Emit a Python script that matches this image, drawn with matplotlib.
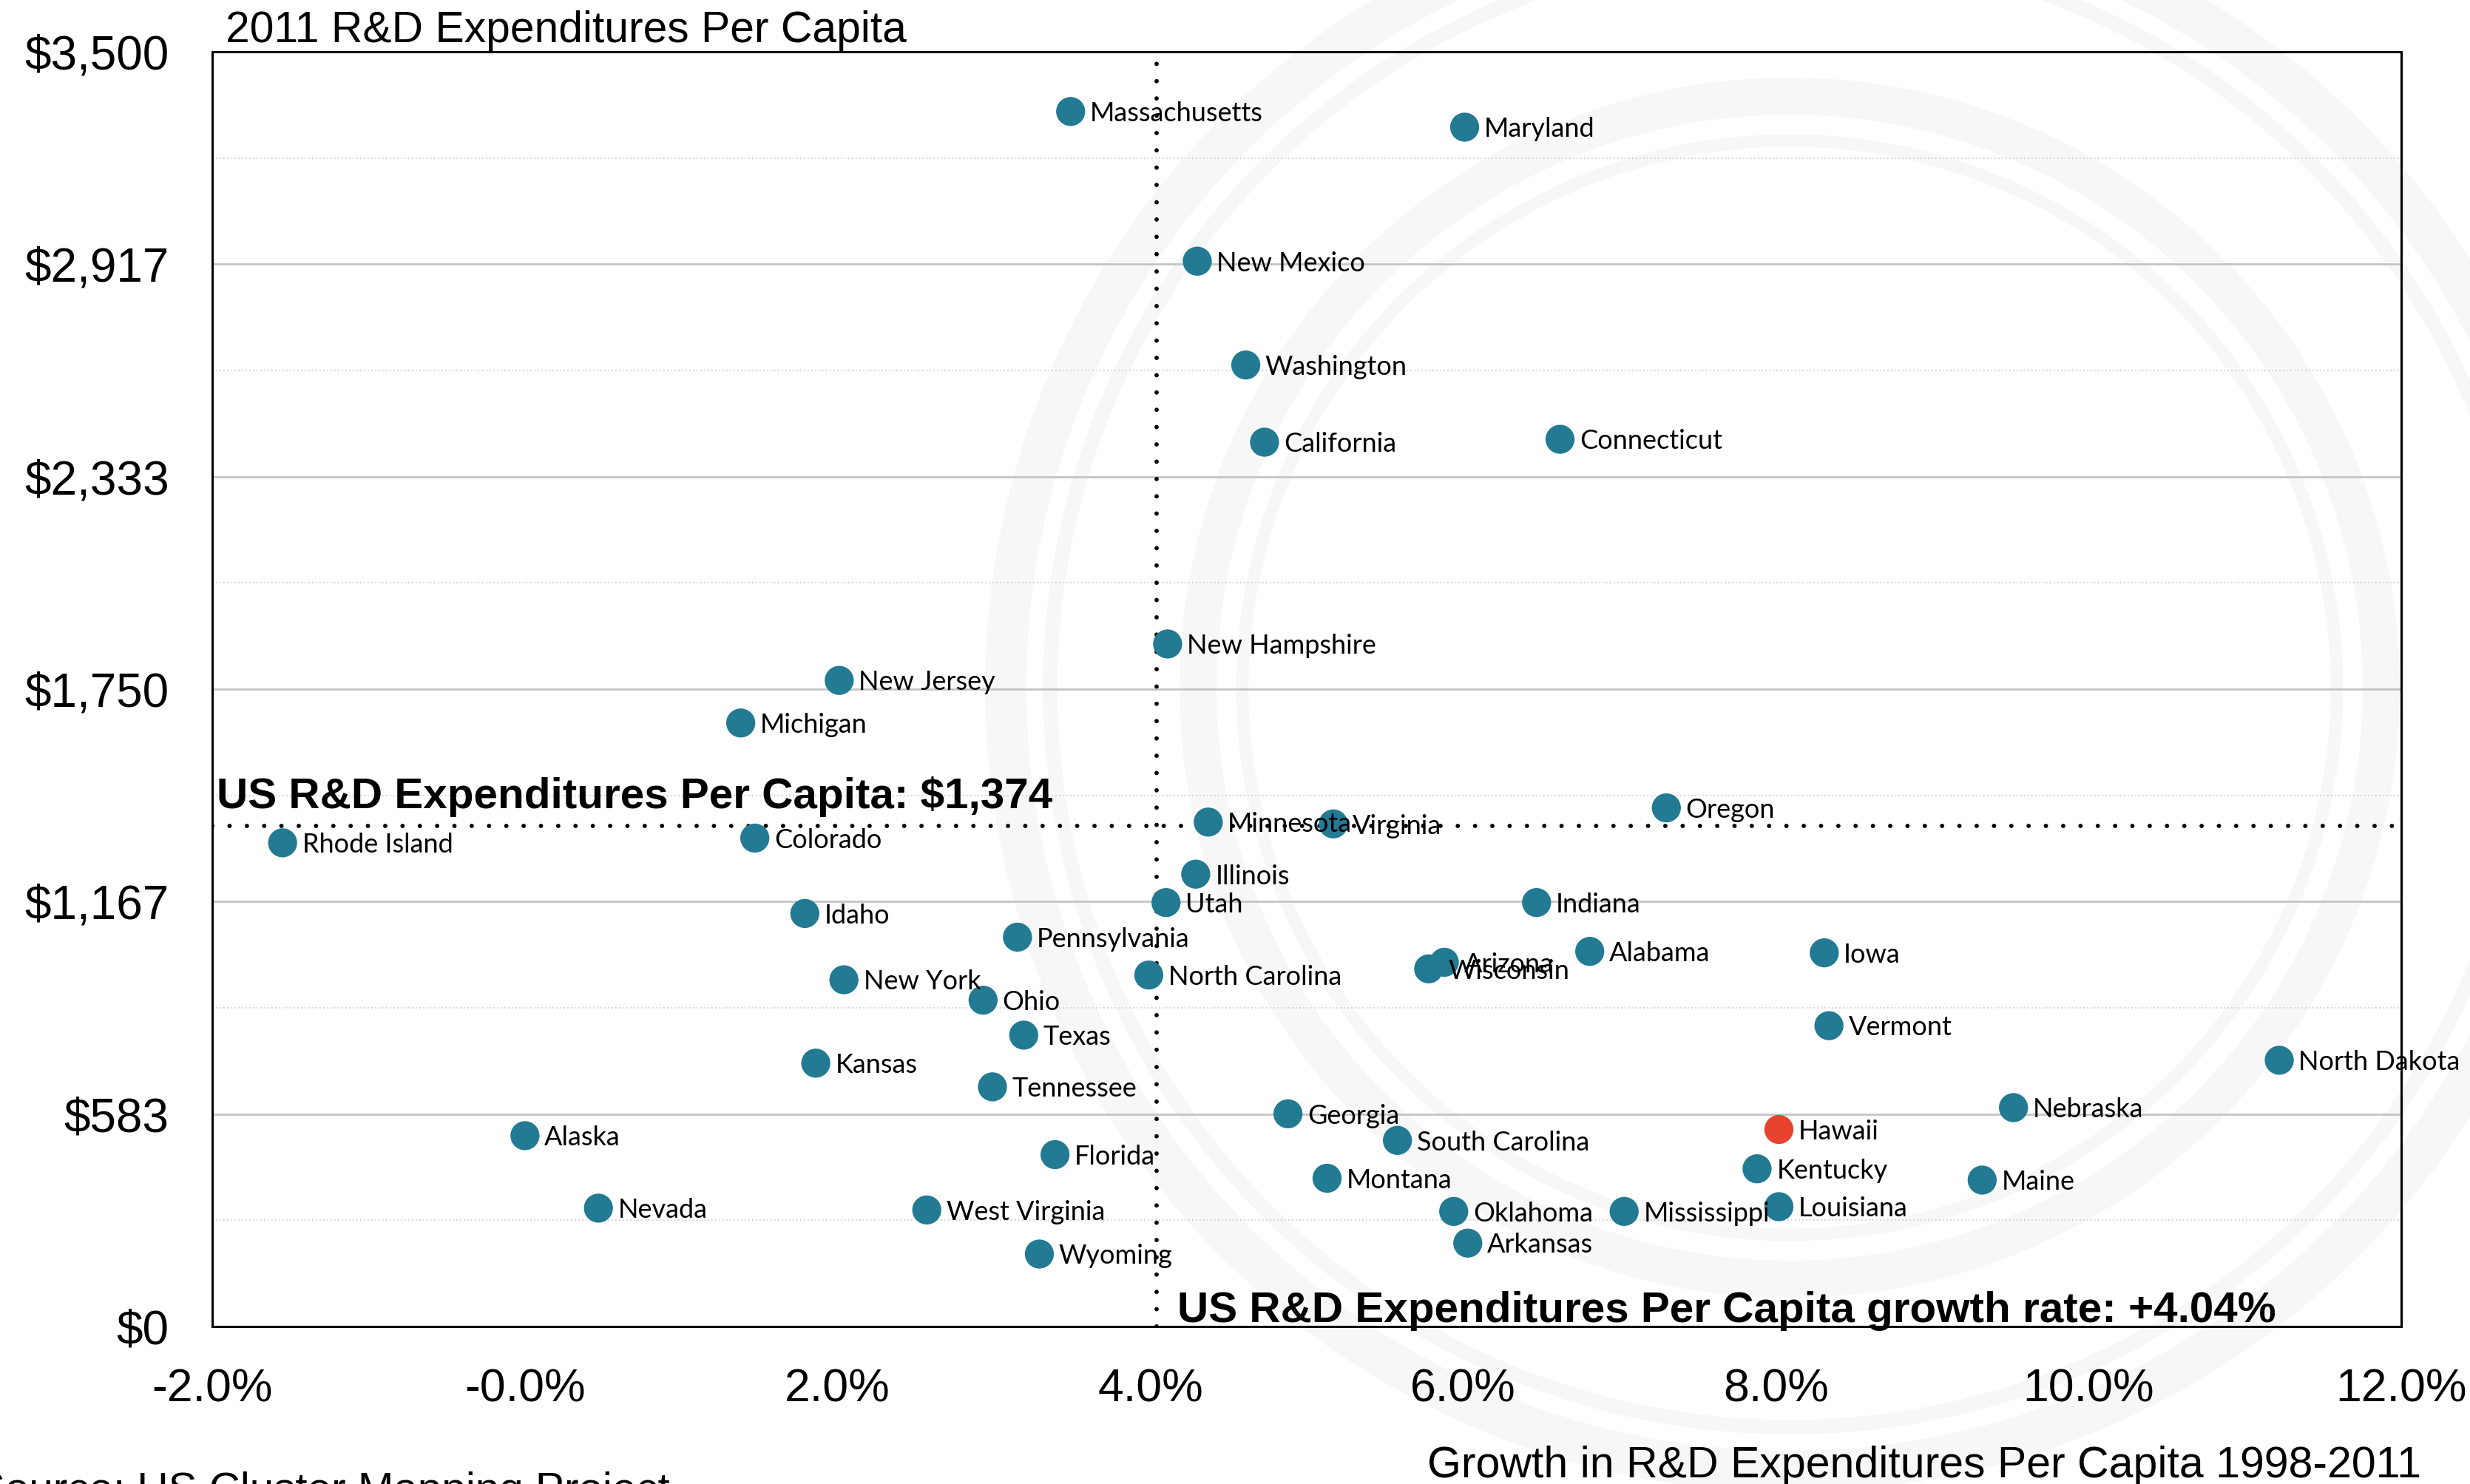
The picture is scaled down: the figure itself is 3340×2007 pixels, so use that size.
import matplotlib
matplotlib.use("Agg")
import matplotlib.pyplot as plt
from matplotlib.patches import Circle
import numpy as np

# ---------------- data ----------------
states = ["Massachusetts", "Maryland", "New Mexico", "Washington", "California",
          "Connecticut", "New Hampshire", "New Jersey", "Michigan", "Rhode Island",
          "Colorado", "Minnesota", "Virginia", "Oregon", "Illinois", "Utah",
          "Indiana", "Idaho", "Pennsylvania", "Alabama", "Iowa", "Arizona",
          "Wisconsin", "North Carolina", "New York", "Ohio", "Vermont", "Texas",
          "North Dakota", "Kansas", "Tennessee", "Nebraska", "Georgia", "Hawaii",
          "Alaska", "South Carolina", "Florida", "Kentucky", "Montana", "Maine",
          "Louisiana", "Nevada", "West Virginia", "Oklahoma", "Mississippi",
          "Arkansas", "Wyoming"]
growth = [3.49, 6.01, 4.30, 4.61, 4.73,
          6.62, 4.11, 2.01, 1.38, -1.55,
          1.47, 4.37, 5.17, 7.30, 4.29, 4.10,
          6.47, 1.79, 3.15, 6.81, 8.31, 5.88,
          5.78, 3.99, 2.04, 2.93, 8.34, 3.19,
          11.22, 1.86, 2.99, 9.52, 4.88, 8.02,
          0.00, 5.58, 3.39, 7.88, 5.13, 9.32,
          8.02, 0.47, 2.57, 5.94, 7.03,
          6.03, 3.29]
rd_per_capita = [3336, 3293, 2925, 2640, 2428,
                 2436, 1874, 1774, 1657, 1328,
                 1341, 1385, 1380, 1424, 1242, 1164,
                 1164, 1134, 1069, 1030, 1026, 1000,
                 982, 965, 952, 896, 826, 800,
                 731, 723, 658, 601, 584, 541,
                 524, 511, 472, 433, 407, 402,
                 329, 325, 320, 316, 316,
                 229, 199]
highlight = "Hawaii"
us_per_capita = 1374
us_growth = 4.04
y_ticks = [0, 583.33, 1166.67, 1750, 2333.33, 2916.67, 3500]
y_tick_labels = ["$0", "$583", "$1,167", "$1,750", "$2,333", "$2,917", "$3,500"]
y_minor = [291.67, 875, 1458.33, 2041.67, 2625, 3208.33]
x_ticks = [-2, 0, 2, 4, 6, 8, 10, 12]
x_tick_labels = ["-2.0%", "-0.0%", "2.0%", "4.0%", "6.0%", "8.0%", "10.0%", "12.0%"]

# ---------------- figure ----------------
W, H = 3341, 2007
fig = plt.figure(figsize=(W / 100, H / 100), dpi=100)
fig.patch.set_facecolor("white")

# faint seal watermark in the background
bg = fig.add_axes([0, 0, 1, 1], zorder=-5)
bg.set_xlim(0, W)
bg.set_ylim(H, 0)
bg.axis("off")
for r, lw in [(1060, 40), (1000, 14), (800, 36), (740, 12)]:
    bg.add_patch(Circle((2420, 930), r, fill=False, ec="#f7f7f7", lw=lw))

sans = ["Liberation Sans", "Arial", "DejaVu Sans"]
lab_font = ["Lato", "DejaVu Sans"]

ax = fig.add_axes([287 / W, 1 - 1794 / H, (3247 - 287) / W, (1794 - 70) / H])
ax.set_facecolor("none")
ax.set_xlim(-2, 12)
ax.set_ylim(0, 3500)

ax.set_yticks(y_ticks)
ax.set_yticklabels(y_tick_labels, family=sans, fontsize=46)
ax.set_yticks(y_minor, minor=True)
ax.set_xticks(x_ticks)
ax.set_xticklabels(x_tick_labels, family=sans, fontsize=45)
ax.tick_params(axis="both", which="both", length=0)
ax.tick_params(axis="y", pad=42)
ax.tick_params(axis="x", pad=40)

ax.grid(which="major", axis="y", color="#c4c4c4", lw=2.0, zorder=0)
ax.grid(which="minor", axis="y", color="#c8c8c8", lw=1.2, ls=(0, (1, 2)), zorder=0)
ax.grid(which="major", axis="x", visible=False)
for s in ax.spines.values():
    s.set_linewidth(2.2)
    s.set_color("black")

# reference lines
ax.axhline(us_per_capita, color="black", lw=4.2, ls=(0, (0.01, 4)),
           dash_capstyle="round", zorder=2)
ax.axvline(us_growth, color="black", lw=4.2, ls=(0, (0.01, 4)),
           dash_capstyle="round", zorder=2)

colors = ["#e8432f" if s == highlight else "#227a93" for s in states]
ax.scatter(growth, rd_per_capita, s=800, c=colors, edgecolors="none", zorder=3,
           clip_on=False)
for name, gx, ry in zip(states, growth, rd_per_capita):
    ax.annotate(name, (gx, ry), xytext=(19, -2), textcoords="offset points",
                va="center", ha="left", family=lab_font, fontsize=26,
                color="black", zorder=4, annotation_clip=False)

ax.text(-1.97, us_per_capita + 25, "US R&D Expenditures Per Capita: $1,374",
        family=sans, fontsize=42, fontweight="bold", va="bottom", ha="left",
        zorder=5)
ax.text(4.17, 12, "US R&D Expenditures Per Capita growth rate: +4.04%",
        family=sans, fontsize=42, fontweight="bold", va="baseline", ha="left",
        zorder=5)

fig.text(305 / W, 1 - 57 / H, "2011 R&D Expenditures Per Capita",
         family=sans, fontsize=42.3, va="baseline", ha="left")
fig.text(3274 / W, 1 - 1998 / H, "Growth in R&D Expenditures Per Capita 1998-2011",
         family=sans, fontsize=42.5, va="baseline", ha="right")
fig.text(-32 / W, 1 - 2032 / H, "Source: US Cluster Mapping Project",
         family=sans, fontsize=42, va="baseline", ha="left")

fig.savefig("out.png", dpi=100)
